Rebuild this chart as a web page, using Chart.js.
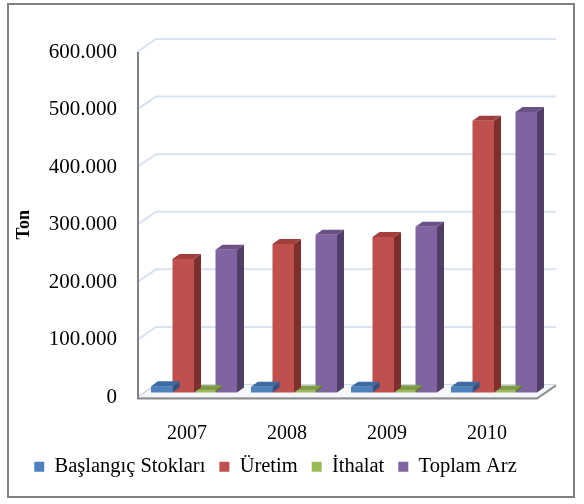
<!DOCTYPE html>
<html>
<head>
<meta charset="utf-8">
<script src="https://cdn.jsdelivr.net/npm/chart.js@4/dist/chart.umd.min.js"></script>
<style>
  html, body { margin: 0; padding: 0; background: #fff; }
  #wrap { width: 584px; height: 504px; position: relative; }
</style>
</head>
<body>
<div id="wrap"><canvas id="myChart" width="584" height="504"></canvas></div>
<script>
const years = ['2007', '2008', '2009', '2010']
const baslangicStoklari = [11000, 10000, 10000, 10000]
const uretim = [232000, 258000, 270000, 472000]
const ithalat = [4000, 3500, 4000, 3500]
const toplamArz = [248000, 274000, 288000, 487000]
const yTicks = [0, 100000, 200000, 300000, 400000, 500000, 600000]

// depth of the walls and of the bars (pseudo 3D like the office chart)
const WALL_DX = 19, WALL_DY = -13
const BAR_SHIFT_X = 7, BAR_SHIFT_Y = -5
const BAR_DX = 7, BAR_DY = -5
const LEGEND_LIFT = 15

const faceColors = [
    {front: '#4f81bd', top: '#3d6ca4', side: '#2f5484'},
    {front: '#c0504d', top: '#a13f3c', side: '#7d2f2d'},
    {front: '#9bbb59', top: '#7f9d44', side: '#5f7833'},
    {front: '#8064a2', top: '#6a5289', side: '#503e67'}
]

const fmt = v => String(v).replace(/\B(?=(\d{3})+(?!\d))/g, '.')

const threeD = {
    id: 'threeD',
    afterLayout(chart) {
        // pull the legend a little closer to the axis labels
        const lg = chart.legend
        if (lg) { lg.top -= LEGEND_LIFT; lg.bottom -= LEGEND_LIFT }
    },
    beforeDraw(chart) {
        const ctx = chart.ctx
        ctx.save()
        ctx.strokeStyle = '#808080'
        ctx.lineWidth = 2
        ctx.strokeRect(8, 4, 566, 493)
        ctx.restore()
    },
    beforeDatasetsDraw(chart) {
        const ctx = chart.ctx
        const {left, right, top, bottom} = chart.chartArea
        const y = chart.scales.y
        ctx.save()
        // floor
        ctx.beginPath()
        ctx.moveTo(left, bottom)
        ctx.lineTo(right, bottom)
        ctx.lineTo(right + WALL_DX, bottom + WALL_DY)
        ctx.lineTo(left + WALL_DX, bottom + WALL_DY)
        ctx.closePath()
        ctx.fillStyle = '#f5f7fb'
        ctx.fill()
        ctx.strokeStyle = '#d0d7e4'
        ctx.lineWidth = 1
        ctx.stroke()
        // gridlines on the left and back walls
        ctx.strokeStyle = '#d9e2f0'
        ctx.lineWidth = 2
        yTicks.forEach(v => {
            if (v === 0) return
            const py = y.getPixelForValue(v)
            ctx.beginPath()
            ctx.moveTo(left, py)
            ctx.lineTo(left + WALL_DX, py + WALL_DY)
            ctx.lineTo(right + WALL_DX, py + WALL_DY)
            ctx.stroke()
        })
        // floor edges
        ctx.strokeStyle = '#8c8c8c'
        ctx.lineWidth = 2
        ctx.beginPath()
        ctx.moveTo(left, bottom + 1)
        ctx.lineTo(right, bottom + 1)
        ctx.lineTo(right + WALL_DX, bottom + WALL_DY + 1)
        ctx.stroke()
        ctx.strokeStyle = '#c4ccd8'
        ctx.lineWidth = 1
        ctx.beginPath()
        ctx.moveTo(left + 1, bottom - 1)
        ctx.lineTo(left + WALL_DX, bottom + WALL_DY)
        ctx.stroke()
        // left wall front edge
        ctx.strokeStyle = '#808080'
        ctx.lineWidth = 2
        ctx.beginPath()
        ctx.moveTo(left + 1, top)
        ctx.lineTo(left + 1, bottom + 1)
        ctx.stroke()
        ctx.restore()

        ctx.save()
        ctx.translate(BAR_SHIFT_X, BAR_SHIFT_Y)
    },
    afterDatasetDraw(chart, args) {
        const ctx = chart.ctx
        const c = faceColors[args.index]
        const meta = args.meta
        meta.data.forEach(bar => {
            const {x, y, base, width} = bar.getProps(['x', 'y', 'base', 'width'], true)
            const l = x - width / 2, r = x + width / 2
            ctx.fillStyle = c.side
            ctx.beginPath()
            ctx.moveTo(r, y)
            ctx.lineTo(r + BAR_DX, y + BAR_DY)
            ctx.lineTo(r + BAR_DX, base + BAR_DY)
            ctx.lineTo(r, base)
            ctx.closePath()
            ctx.fill()
            ctx.fillStyle = c.top
            ctx.beginPath()
            ctx.moveTo(l, y)
            ctx.lineTo(r, y)
            ctx.lineTo(r + BAR_DX, y + BAR_DY)
            ctx.lineTo(l + BAR_DX, y + BAR_DY)
            ctx.closePath()
            ctx.fill()
        })
    },
    afterDatasetsDraw(chart) {
        chart.ctx.restore()
    }
}

const ctx = document.getElementById('myChart').getContext('2d')
const myChart = new Chart(ctx, {
    type: 'bar',
    data: {
        labels: years,
        datasets: [
            {label: 'Başlangıç Stokları', data: baslangicStoklari, backgroundColor: faceColors[0].front},
            {label: 'Üretim', data: uretim, backgroundColor: faceColors[1].front},
            {label: 'İthalat', data: ithalat, backgroundColor: faceColors[2].front},
            {label: 'Toplam Arz', data: toplamArz, backgroundColor: faceColors[3].front}
        ]
    },
    options: {
        responsive: false,
        animation: false,
        events: [],
        datasets: {
            bar: {categoryPercentage: 0.86, barPercentage: 1, borderWidth: 0, clip: false}
        },
        layout: {
            padding: {left: 14, top: 52, right: 47, bottom: 2}
        },
        scales: {
            x: {
                grid: {display: false, drawTicks: false},
                border: {display: false},
                afterFit(scale) { scale.height = 60 },
                ticks: {color: '#000', padding: 24, font: {family: 'Liberation Serif', size: 20}}
            },
            y: {
                min: 0,
                max: 600000,
                grid: {display: false, drawTicks: false},
                border: {display: false},
                afterFit(scale) { scale.width = 123 },
                ticks: {
                    stepSize: 100000,
                    color: '#000',
                    padding: 20,
                    font: {family: 'Liberation Serif', size: 21},
                    callback: v => fmt(v)
                },
                title: {
                    display: true,
                    text: 'Ton',
                    color: '#000',
                    padding: 0,
                    font: {family: 'Liberation Serif', size: 18, weight: 'bold'}
                }
            }
        },
        plugins: {
            legend: {
                position: 'bottom',
                labels: {
                    color: '#000',
                    boxWidth: 10,
                    boxHeight: 10,
                    padding: 14,
                    font: {family: 'Liberation Serif', size: 20.5}
                }
            },
            tooltip: {enabled: false}
        }
    },
    plugins: [threeD]
})
</script>
</body>
</html>
